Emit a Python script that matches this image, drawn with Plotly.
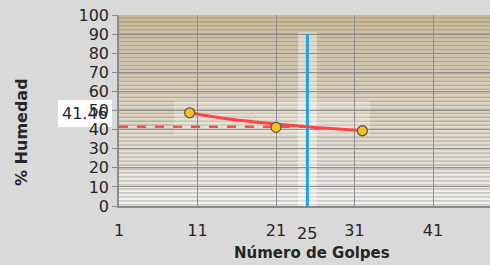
import plotly.graph_objects as go

# ---- data ----
golpes = [10, 21, 32]
humedad = [48.8, 41.2, 39.4]
curve_x = [10, 13, 16, 19, 22, 25, 28, 32]
curve_y = [48.8, 46.7, 45.0, 43.7, 42.5, 41.46, 40.55, 39.45]
ref_golpes = 25
ref_humedad = 41.46
x_ticks = [1, 11, 21, 31, 41]
y_ticks = [0, 10, 20, 30, 40, 50, 60, 70, 80, 90, 100]

FONT = "DejaVu Sans"
fig = go.Figure()

# striped gradient background
def lerp(c1, c2, t):
    return "rgb(%d,%d,%d)" % tuple(round(a + (b - a) * t) for a, b in zip(c1, c2))

bot_l, top_l = (243, 243, 241), (201, 186, 156)
bot_d, top_d = (188, 188, 188), (178, 162, 131)
N = 48
shapes = []
for i in range(N):
    t = (i / (N - 1)) ** 0.8
    shapes.append(dict(type="rect", xref="paper", yref="paper", x0=0, x1=1,
                       y0=i / N, y1=(i + 1) / N, fillcolor=lerp(bot_l, top_l, t),
                       line=dict(width=0), layer="below"))
    shapes.append(dict(type="line", xref="paper", yref="paper", x0=0, x1=1,
                       y0=i / N + 0.3 / N, y1=i / N + 0.3 / N,
                       line=dict(color=lerp(bot_d, top_d, t), width=1.3), layer="below"))
# soft highlight areas
shapes.append(dict(type="rect", xref="x", yref="y", x0=8, x1=33, y0=37, y1=55,
                   fillcolor="rgba(255,255,255,0.25)", line=dict(width=0), layer="below"))
shapes.append(dict(type="rect", xref="x", yref="y", x0=23.8, x1=26.2, y0=0, y1=91,
                   fillcolor="rgba(255,255,255,0.4)", line=dict(width=0), layer="below"))
# white label box
shapes.append(dict(type="rect", xref="paper", yref="paper", x0=-61 / 371, x1=-7 / 371,
                   y0=(206 - 127) / 191, y1=(206 - 100) / 191,
                   fillcolor="white", line=dict(width=0), layer="below"))

fig.add_trace(go.Scatter(x=[ref_golpes, ref_golpes], y=[0, 90], mode="lines",
                         line=dict(color="#19a6e3", width=3), showlegend=False))
fig.add_trace(go.Scatter(x=[x_ticks[0], ref_golpes], y=[ref_humedad, ref_humedad], mode="lines",
                         line=dict(color="#ff4a4a", width=2.5, dash="dash"), showlegend=False))
fig.add_trace(go.Scatter(x=curve_x, y=curve_y, mode="lines", line_shape="spline",
                         line=dict(color="#ff4545", width=3), showlegend=False))
fig.add_trace(go.Scatter(x=golpes, y=humedad, mode="markers",
                         marker=dict(color="#f7c21c", size=10, line=dict(color="#5a5a5a", width=1.3)),
                         showlegend=False))

ann = dict(showarrow=False, xanchor="center", yanchor="middle")
fig.add_annotation(x=-34 / 371, y=(206 - 114) / 191, xref="paper", yref="paper",
                   text=str(ref_humedad), font=dict(family=FONT, size=16, color="#262626"), **ann)
fig.add_annotation(x=ref_golpes, y=-(233 - 206) / 191, xref="x", yref="paper",
                   text=str(ref_golpes), font=dict(family=FONT, size=16, color="#262626"), **ann)
fig.add_annotation(x=(312 - 119) / 371, y=-(253 - 206) / 191, xref="paper", yref="paper",
                   text="<b>Número de Golpes</b>", font=dict(family=FONT, size=15, color="#262626"), **ann)
fig.add_annotation(x=-(119 - 21) / 371, y=(206 - 132) / 191, xref="paper", yref="paper",
                   text="<b>% Humedad</b>", textangle=-90,
                   font=dict(family=FONT, size=16, color="#262626"), **ann)

fig.update_layout(
    width=490, height=265,
    margin=dict(l=119, r=0, t=15, b=59),
    paper_bgcolor="#d9d9d9", plot_bgcolor="#f0f0ee",
    shapes=shapes,
    font=dict(family=FONT, size=16, color="#262626"),
)
fig.update_xaxes(range=[1, 1 + 371 / 7.85], tickvals=x_ticks, ticks="",
                 showgrid=True, gridcolor="#8f8f8f", gridwidth=1.3,
                 showline=True, linecolor="#8a8a8a", linewidth=1.5,
                 ticklabelstandoff=9, zeroline=False,
                 tickfont=dict(family=FONT, size=16, color="#262626"))
fig.update_yaxes(range=[0, 100], tickvals=y_ticks, ticks="outside", ticklen=5,
                 tickcolor="#8a8a8a", showgrid=True, gridcolor="#8f8f8f", gridwidth=1.3,
                 showline=True, linecolor="#8a8a8a", linewidth=1.5, zeroline=False,
                 tickfont=dict(family=FONT, size=16, color="#262626"))

fig.write_html("out.html", config={"displayModeBar": False},
               post_script="document.body.style.margin='0';")
